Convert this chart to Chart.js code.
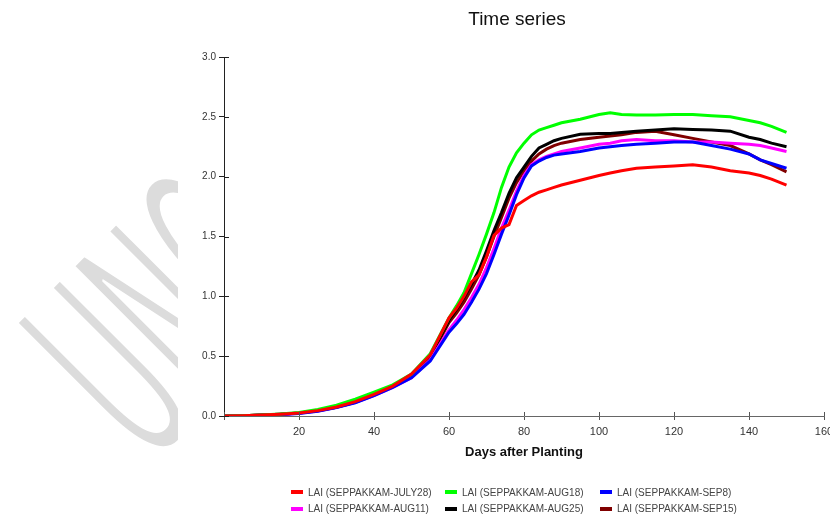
<!DOCTYPE html>
<html>
<head>
<meta charset="utf-8">
<script src="https://cdn.jsdelivr.net/npm/chart.js@4.4.0/dist/chart.umd.min.js"></script>
<style>
  html, body { margin: 0; padding: 0; background: #fff; }
  body { width: 830px; height: 516px; position: relative; overflow: hidden; font-family: "Liberation Sans", Arial, sans-serif; }
  #wm { position: absolute; left: 0; top: 0; width: 178px; height: 516px; overflow: hidden; }
  #wm span { position: absolute; left: -13px; top: 306px; transform-origin: 0 0;
    transform: rotate(-45deg) scale(0.72, 1.8); font: 150px/1 "DejaVu Sans", sans-serif;
    color: #dcdcdc; -webkit-text-stroke: 3px #fff; white-space: nowrap; }
  #title { position: absolute; left: 0; width: 1034px; top: 9px; text-align: center;
    font-size: 19px; line-height: 19px; color: #111; }
  canvas { position: absolute; left: 0; top: 0; }
  #legend { position: absolute; left: 291px; top: 484px; display: grid;
    grid-template-columns: 154px 155px 155px; grid-auto-rows: 16.5px; font-size: 10px; color: #444; }
  #legend div { display: flex; align-items: center; white-space: nowrap; }
  #legend i { display: inline-block; width: 12px; height: 4px; margin-right: 5px; }
</style>
</head>
<body>
<div id="wm"><span>UNOFFICIAL</span></div>
<canvas id="chart" width="830" height="516"></canvas>
<div id="title">Time series</div>
<div id="legend"></div>
<script>
  // ---- data ----
  const days = [0, 5, 10, 15, 20, 25, 30, 35, 40, 45, 50, 55, 60, 62, 64, 66, 68, 70, 72, 74, 76, 78, 80,
    82, 84, 86, 88, 90, 95, 100, 103, 106, 110, 115, 120, 125, 130, 135, 140, 143, 146, 150];

  const july28 = [0, 0.003, 0.008, 0.015, 0.025, 0.045, 0.075, 0.12, 0.18, 0.25, 0.35, 0.51,
    0.82, 0.90, 1.00, 1.12, 1.18, 1.33, 1.51, 1.57, 1.60, 1.76, 1.80, 1.84, 1.87, 1.89, 1.91, 1.93, 1.97,
    2.01, 2.03, 2.05, 2.07, 2.08, 2.09, 2.10, 2.08, 2.05, 2.03, 2.01, 1.98, 1.93];
  const aug18 = [0, 0.003, 0.009, 0.017, 0.03, 0.055, 0.09, 0.14, 0.2, 0.26, 0.35, 0.52,
    0.82, 0.92, 1.03, 1.19, 1.35, 1.52, 1.70, 1.91, 2.08, 2.20, 2.28, 2.35, 2.39, 2.41, 2.43, 2.45, 2.48,
    2.52, 2.535, 2.52, 2.515, 2.515, 2.52, 2.52, 2.51, 2.50, 2.47, 2.45, 2.42, 2.37];
  const sep8 = [0, 0.002, 0.006, 0.012, 0.02, 0.04, 0.07, 0.11, 0.17, 0.24, 0.32, 0.46,
    0.70, 0.77, 0.85, 0.95, 1.06, 1.19, 1.35, 1.52, 1.68, 1.85, 1.99, 2.09, 2.13, 2.16, 2.18, 2.19, 2.21,
    2.24, 2.25, 2.26, 2.27, 2.28, 2.29, 2.29, 2.26, 2.23, 2.19, 2.14, 2.11, 2.07];
  const aug11 = [0, 0.002, 0.006, 0.013, 0.022, 0.042, 0.072, 0.115, 0.17, 0.24, 0.32, 0.47,
    0.72, 0.80, 0.89, 0.99, 1.10, 1.24, 1.40, 1.57, 1.72, 1.88, 2.01, 2.10, 2.14, 2.17, 2.19, 2.21, 2.24,
    2.27, 2.28, 2.30, 2.31, 2.30, 2.30, 2.29, 2.29, 2.28, 2.27, 2.26, 2.24, 2.21];
  const aug25 = [0, 0.003, 0.008, 0.015, 0.025, 0.045, 0.075, 0.12, 0.18, 0.25, 0.34, 0.50,
    0.80, 0.89, 0.99, 1.10, 1.22, 1.38, 1.55, 1.70, 1.86, 1.99, 2.08, 2.17, 2.24, 2.27, 2.30, 2.32, 2.355,
    2.36, 2.36, 2.37, 2.38, 2.39, 2.40, 2.395, 2.39, 2.38, 2.33, 2.31, 2.28, 2.25];
  const sep15 = [0, 0.003, 0.008, 0.015, 0.024, 0.044, 0.073, 0.115, 0.175, 0.245, 0.335, 0.49,
    0.78, 0.86, 0.95, 1.06, 1.18, 1.33, 1.50, 1.66, 1.82, 1.95, 2.05, 2.13, 2.19, 2.23, 2.26, 2.28, 2.31,
    2.33, 2.34, 2.35, 2.37, 2.38, 2.35, 2.32, 2.29, 2.26, 2.19, 2.14, 2.10, 2.04];

  const seriesLabels = ['LAI (SEPPAKKAM-JULY28)', 'LAI (SEPPAKKAM-AUG18)', 'LAI (SEPPAKKAM-SEP8)',
    'LAI (SEPPAKKAM-AUG11)', 'LAI (SEPPAKKAM-AUG25)', 'LAI (SEPPAKKAM-SEP15)'];
  const seriesValues = [july28, aug18, sep8, aug11, aug25, sep15];
  const seriesColors = ['#ff0000', '#00ff00', '#0000ff', '#ff00ff', '#000000', '#800000'];

  const xTicks = { min: 0, max: 160, step: 20 };
  const yTicks = { min: 0, max: 3, step: 0.5 };

  // ---- chart ----
  const datasets = seriesLabels.map((label, i) => ({
    label: label,
    data: days.map((d, j) => ({ x: d, y: seriesValues[i][j] })),
    borderColor: seriesColors[i],
    backgroundColor: seriesColors[i],
    borderWidth: 3,
    pointRadius: 0,
    tension: 0,
    fill: false
  }));

  // short tick marks poking into the plot area, like the original
  const innerTicks = {
    id: 'innerTicks',
    afterDraw(chart) {
      const { ctx, chartArea, scales } = chart;
      ctx.save();
      ctx.lineWidth = 1;
      ctx.strokeStyle = '#555';
      scales.x.ticks.forEach(t => {
        const px = Math.round(scales.x.getPixelForValue(t.value)) + 0.5;
        ctx.beginPath(); ctx.moveTo(px, chartArea.bottom); ctx.lineTo(px, chartArea.bottom - 4); ctx.stroke();
      });
      ctx.strokeStyle = '#222';
      scales.y.ticks.forEach(t => {
        const py = Math.round(scales.y.getPixelForValue(t.value)) + 0.5;
        ctx.beginPath(); ctx.moveTo(chartArea.left, py); ctx.lineTo(chartArea.left + 5, py); ctx.stroke();
      });
      ctx.restore();
    }
  };

  new Chart(document.getElementById('chart'), {
    type: 'line',
    data: { datasets: datasets },
    plugins: [innerTicks],
    options: {
      responsive: false,
      animation: false,
      layout: { padding: { left: 0, right: 6, top: 57, bottom: 56 } },
      plugins: { legend: { display: false }, title: { display: false }, tooltip: { enabled: false } },
      scales: {
        x: {
          type: 'linear',
          min: xTicks.min, max: xTicks.max,
          afterFit(s) { s.height = 44; s.paddingLeft = 0; s.paddingRight = 0; },
          ticks: {
            stepSize: xTicks.step,
            padding: 5,
            color: '#333',
            font: { family: '"Liberation Sans", Arial, sans-serif', size: 11 },
            callback: v => (v === 0 ? '' : v),
            maxRotation: 0
          },
          grid: { drawOnChartArea: false, tickLength: 4, color: '#555' },
          border: { color: '#666', width: 1 },
          title: {
            display: true,
            text: 'Days after Planting',
            color: '#111',
            padding: 0,
            font: { family: '"Liberation Sans", Arial, sans-serif', size: 13, weight: 'bold' }
          }
        },
        y: {
          type: 'linear',
          min: yTicks.min, max: yTicks.max,
          afterFit(s) { s.width = 224; s.paddingTop = 0; s.paddingBottom = 0; },
          ticks: {
            stepSize: yTicks.step,
            padding: 3,
            color: '#333',
            font: { family: '"Liberation Sans", Arial, sans-serif', size: 10 },
            callback: v => v.toFixed(1)
          },
          grid: { drawOnChartArea: false, tickLength: 5, color: '#222' },
          border: { color: '#222', width: 1 }
        }
      }
    }
  });

  // ---- legend (3 columns, 2 rows) ----
  const legend = document.getElementById('legend');
  legend.innerHTML = seriesLabels.map((l, i) =>
    `<div><i style="background:${seriesColors[i]}"></i>${l}</div>`).join('');
</script>
</body>
</html>
